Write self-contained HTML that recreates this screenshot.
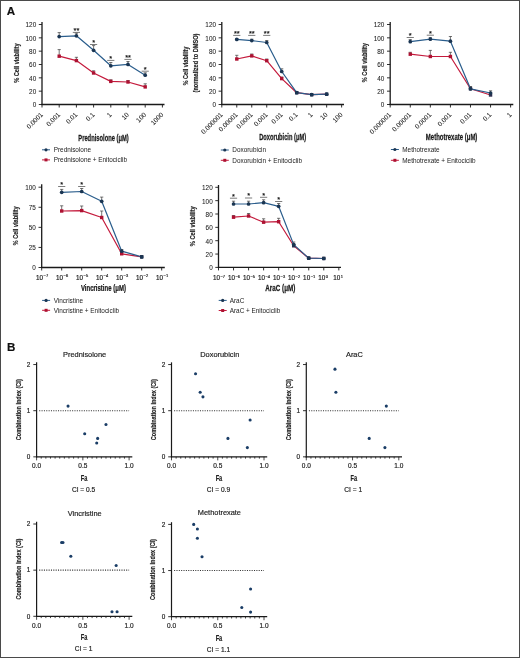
<!DOCTYPE html>
<html><head><meta charset="utf-8"><style>
html,body{margin:0;padding:0;background:#fff;}
#fig{position:relative;width:520px;height:658px;box-sizing:border-box;border:1px solid #4a4a4a;background:#fff;overflow:hidden;}
svg{position:absolute;left:-1px;top:-1px;filter:blur(0.3px);}
text{font-family:"Liberation Sans",sans-serif;}
</style></head><body><div id="fig">
<svg width="520" height="658" viewBox="0 0 520 658">
<text transform="translate(6.80,15.00)" font-size="11.6" text-anchor="start" font-weight="bold" fill="#111" stroke="#111" stroke-width="0.180">A</text>
<text transform="translate(6.90,351.40)" font-size="11.6" text-anchor="start" font-weight="bold" fill="#111" stroke="#111" stroke-width="0.180">B</text>
<line x1="38.80" y1="104.50" x2="42.00" y2="104.50" stroke="#1a1a1a" stroke-width="0.9"/>
<text transform="translate(36.20,107.40)" font-size="6.4" text-anchor="end" fill="#222222" stroke="#222222" stroke-width="0.060">0</text>
<line x1="38.80" y1="91.17" x2="42.00" y2="91.17" stroke="#1a1a1a" stroke-width="0.9"/>
<text transform="translate(36.20,94.07)" font-size="6.4" text-anchor="end" fill="#222222" stroke="#222222" stroke-width="0.060">20</text>
<line x1="38.80" y1="77.83" x2="42.00" y2="77.83" stroke="#1a1a1a" stroke-width="0.9"/>
<text transform="translate(36.20,80.73)" font-size="6.4" text-anchor="end" fill="#222222" stroke="#222222" stroke-width="0.060">40</text>
<line x1="38.80" y1="64.50" x2="42.00" y2="64.50" stroke="#1a1a1a" stroke-width="0.9"/>
<text transform="translate(36.20,67.40)" font-size="6.4" text-anchor="end" fill="#222222" stroke="#222222" stroke-width="0.060">60</text>
<line x1="38.80" y1="51.17" x2="42.00" y2="51.17" stroke="#1a1a1a" stroke-width="0.9"/>
<text transform="translate(36.20,54.07)" font-size="6.4" text-anchor="end" fill="#222222" stroke="#222222" stroke-width="0.060">80</text>
<line x1="38.80" y1="37.83" x2="42.00" y2="37.83" stroke="#1a1a1a" stroke-width="0.9"/>
<text transform="translate(36.20,40.73)" font-size="6.4" text-anchor="end" fill="#222222" stroke="#222222" stroke-width="0.060">100</text>
<line x1="38.80" y1="24.50" x2="42.00" y2="24.50" stroke="#1a1a1a" stroke-width="0.9"/>
<text transform="translate(36.20,27.40)" font-size="6.4" text-anchor="end" fill="#222222" stroke="#222222" stroke-width="0.060">120</text>
<line x1="42.00" y1="104.50" x2="42.00" y2="107.50" stroke="#1a1a1a" stroke-width="0.9"/>
<line x1="59.20" y1="104.50" x2="59.20" y2="107.50" stroke="#1a1a1a" stroke-width="0.9"/>
<line x1="76.40" y1="104.50" x2="76.40" y2="107.50" stroke="#1a1a1a" stroke-width="0.9"/>
<line x1="93.60" y1="104.50" x2="93.60" y2="107.50" stroke="#1a1a1a" stroke-width="0.9"/>
<line x1="110.80" y1="104.50" x2="110.80" y2="107.50" stroke="#1a1a1a" stroke-width="0.9"/>
<line x1="128.00" y1="104.50" x2="128.00" y2="107.50" stroke="#1a1a1a" stroke-width="0.9"/>
<line x1="145.20" y1="104.50" x2="145.20" y2="107.50" stroke="#1a1a1a" stroke-width="0.9"/>
<line x1="162.40" y1="104.50" x2="162.40" y2="107.50" stroke="#1a1a1a" stroke-width="0.9"/>
<line x1="42.00" y1="22.00" x2="42.00" y2="105.10" stroke="#1a1a1a" stroke-width="1.3"/>
<line x1="41.40" y1="104.50" x2="164.50" y2="104.50" stroke="#1a1a1a" stroke-width="1.3"/>
<text transform="translate(43.40,115.10) rotate(-45)" font-size="6.6" text-anchor="end" fill="#222222" stroke="#222222" stroke-width="0.060">0.0001</text>
<text transform="translate(60.60,115.10) rotate(-45)" font-size="6.6" text-anchor="end" fill="#222222" stroke="#222222" stroke-width="0.060">0.001</text>
<text transform="translate(77.80,115.10) rotate(-45)" font-size="6.6" text-anchor="end" fill="#222222" stroke="#222222" stroke-width="0.060">0.01</text>
<text transform="translate(95.00,115.10) rotate(-45)" font-size="6.6" text-anchor="end" fill="#222222" stroke="#222222" stroke-width="0.060">0.1</text>
<text transform="translate(112.20,115.10) rotate(-45)" font-size="6.6" text-anchor="end" fill="#222222" stroke="#222222" stroke-width="0.060">1</text>
<text transform="translate(129.40,115.10) rotate(-45)" font-size="6.6" text-anchor="end" fill="#222222" stroke="#222222" stroke-width="0.060">10</text>
<text transform="translate(146.60,115.10) rotate(-45)" font-size="6.6" text-anchor="end" fill="#222222" stroke="#222222" stroke-width="0.060">100</text>
<text transform="translate(163.80,115.10) rotate(-45)" font-size="6.6" text-anchor="end" fill="#222222" stroke="#222222" stroke-width="0.060">1000</text>
<line x1="59.20" y1="56.20" x2="59.20" y2="49.60" stroke="#3a3a3a" stroke-width="0.7"/>
<line x1="57.60" y1="49.60" x2="60.80" y2="49.60" stroke="#3a3a3a" stroke-width="0.7"/>
<line x1="76.40" y1="60.60" x2="76.40" y2="57.30" stroke="#3a3a3a" stroke-width="0.7"/>
<line x1="74.80" y1="57.30" x2="78.00" y2="57.30" stroke="#3a3a3a" stroke-width="0.7"/>
<line x1="93.60" y1="73.00" x2="93.60" y2="70.80" stroke="#3a3a3a" stroke-width="0.7"/>
<line x1="92.00" y1="70.80" x2="95.20" y2="70.80" stroke="#3a3a3a" stroke-width="0.7"/>
<line x1="110.80" y1="81.40" x2="110.80" y2="79.80" stroke="#3a3a3a" stroke-width="0.7"/>
<line x1="109.20" y1="79.80" x2="112.40" y2="79.80" stroke="#3a3a3a" stroke-width="0.7"/>
<line x1="128.00" y1="82.00" x2="128.00" y2="80.50" stroke="#3a3a3a" stroke-width="0.7"/>
<line x1="126.40" y1="80.50" x2="129.60" y2="80.50" stroke="#3a3a3a" stroke-width="0.7"/>
<line x1="145.20" y1="86.90" x2="145.20" y2="83.80" stroke="#3a3a3a" stroke-width="0.7"/>
<line x1="143.60" y1="83.80" x2="146.80" y2="83.80" stroke="#3a3a3a" stroke-width="0.7"/>
<line x1="59.20" y1="36.60" x2="59.20" y2="32.60" stroke="#3a3a3a" stroke-width="0.7"/>
<line x1="57.60" y1="32.60" x2="60.80" y2="32.60" stroke="#3a3a3a" stroke-width="0.7"/>
<line x1="76.40" y1="35.80" x2="76.40" y2="33.20" stroke="#3a3a3a" stroke-width="0.7"/>
<line x1="74.80" y1="33.20" x2="78.00" y2="33.20" stroke="#3a3a3a" stroke-width="0.7"/>
<line x1="93.60" y1="50.30" x2="93.60" y2="45.60" stroke="#3a3a3a" stroke-width="0.7"/>
<line x1="92.00" y1="45.60" x2="95.20" y2="45.60" stroke="#3a3a3a" stroke-width="0.7"/>
<line x1="110.80" y1="65.80" x2="110.80" y2="62.50" stroke="#3a3a3a" stroke-width="0.7"/>
<line x1="109.20" y1="62.50" x2="112.40" y2="62.50" stroke="#3a3a3a" stroke-width="0.7"/>
<line x1="128.00" y1="64.40" x2="128.00" y2="61.50" stroke="#3a3a3a" stroke-width="0.7"/>
<line x1="126.40" y1="61.50" x2="129.60" y2="61.50" stroke="#3a3a3a" stroke-width="0.7"/>
<line x1="145.20" y1="75.20" x2="145.20" y2="72.80" stroke="#3a3a3a" stroke-width="0.7"/>
<line x1="143.60" y1="72.80" x2="146.80" y2="72.80" stroke="#3a3a3a" stroke-width="0.7"/>
<polyline points="59.20,56.20 76.40,60.60 93.60,73.00 110.80,81.40 128.00,82.00 145.20,86.90" fill="none" stroke="#c41a3c" stroke-width="1.2" stroke-linejoin="round"/>
<polyline points="59.20,36.60 76.40,35.80 93.60,50.30 110.80,65.80 128.00,64.40 145.20,75.20" fill="none" stroke="#2a5d8c" stroke-width="1.2" stroke-linejoin="round"/>
<rect x="57.50" y="54.50" width="3.4" height="3.4" fill="#ad1232"/>
<rect x="74.70" y="58.90" width="3.4" height="3.4" fill="#ad1232"/>
<rect x="91.90" y="71.30" width="3.4" height="3.4" fill="#ad1232"/>
<rect x="109.10" y="79.70" width="3.4" height="3.4" fill="#ad1232"/>
<rect x="126.30" y="80.30" width="3.4" height="3.4" fill="#ad1232"/>
<rect x="143.50" y="85.20" width="3.4" height="3.4" fill="#ad1232"/>
<circle cx="59.20" cy="36.60" r="1.85" fill="#1a3552"/>
<circle cx="76.40" cy="35.80" r="1.85" fill="#1a3552"/>
<circle cx="93.60" cy="50.30" r="1.85" fill="#1a3552"/>
<circle cx="110.80" cy="65.80" r="1.85" fill="#1a3552"/>
<circle cx="128.00" cy="64.40" r="1.85" fill="#1a3552"/>
<circle cx="145.20" cy="75.20" r="1.85" fill="#1a3552"/>
<line x1="72.80" y1="32.40" x2="80.00" y2="32.40" stroke="#444" stroke-width="0.7"/>
<text transform="translate(76.40,32.79)" font-size="7.4" text-anchor="middle" fill="#111" stroke="#111" stroke-width="0.180">**</text>
<line x1="90.00" y1="44.50" x2="97.20" y2="44.50" stroke="#444" stroke-width="0.7"/>
<text transform="translate(93.60,44.89)" font-size="7.4" text-anchor="middle" fill="#111" stroke="#111" stroke-width="0.180">*</text>
<line x1="107.20" y1="60.40" x2="114.40" y2="60.40" stroke="#444" stroke-width="0.7"/>
<text transform="translate(110.80,60.79)" font-size="7.4" text-anchor="middle" fill="#111" stroke="#111" stroke-width="0.180">*</text>
<line x1="124.40" y1="59.40" x2="131.60" y2="59.40" stroke="#444" stroke-width="0.7"/>
<text transform="translate(128.00,59.79)" font-size="7.4" text-anchor="middle" fill="#111" stroke="#111" stroke-width="0.180">**</text>
<line x1="141.60" y1="71.20" x2="148.80" y2="71.20" stroke="#444" stroke-width="0.7"/>
<text transform="translate(145.20,71.59)" font-size="7.4" text-anchor="middle" fill="#111" stroke="#111" stroke-width="0.180">*</text>
<text transform="translate(103.50,140.60) scale(0.6811,1)" font-size="8.5" text-anchor="middle" font-weight="bold" fill="#1a1a1a" stroke="#1a1a1a" stroke-width="0.250">Prednisolone (μM)</text>
<text transform="translate(18.60,63.10) rotate(-90) scale(0.6982,1)" font-size="8.1" text-anchor="middle" font-weight="bold" fill="#222" stroke="#222" stroke-width="0.180">% Cell viability</text>
<line x1="42.00" y1="149.80" x2="50.00" y2="149.80" stroke="#2a5d8c" stroke-width="1.0"/>
<circle cx="46.00" cy="149.80" r="1.6" fill="#1a3552"/>
<line x1="42.00" y1="159.90" x2="50.00" y2="159.90" stroke="#c41a3c" stroke-width="1.0"/>
<rect x="44.50" y="158.40" width="3" height="3" fill="#ad1232"/>
<text transform="translate(53.70,152.10)" font-size="6.4" text-anchor="start" fill="#222222">Prednisolone</text>
<text transform="translate(53.70,162.20)" font-size="6.4" text-anchor="start" fill="#222222">Prednisolone + Enitociclib</text>
<line x1="218.60" y1="104.50" x2="221.80" y2="104.50" stroke="#1a1a1a" stroke-width="0.9"/>
<text transform="translate(216.00,107.40)" font-size="6.4" text-anchor="end" fill="#222222" stroke="#222222" stroke-width="0.060">0</text>
<line x1="218.60" y1="91.17" x2="221.80" y2="91.17" stroke="#1a1a1a" stroke-width="0.9"/>
<text transform="translate(216.00,94.07)" font-size="6.4" text-anchor="end" fill="#222222" stroke="#222222" stroke-width="0.060">20</text>
<line x1="218.60" y1="77.83" x2="221.80" y2="77.83" stroke="#1a1a1a" stroke-width="0.9"/>
<text transform="translate(216.00,80.73)" font-size="6.4" text-anchor="end" fill="#222222" stroke="#222222" stroke-width="0.060">40</text>
<line x1="218.60" y1="64.50" x2="221.80" y2="64.50" stroke="#1a1a1a" stroke-width="0.9"/>
<text transform="translate(216.00,67.40)" font-size="6.4" text-anchor="end" fill="#222222" stroke="#222222" stroke-width="0.060">60</text>
<line x1="218.60" y1="51.17" x2="221.80" y2="51.17" stroke="#1a1a1a" stroke-width="0.9"/>
<text transform="translate(216.00,54.07)" font-size="6.4" text-anchor="end" fill="#222222" stroke="#222222" stroke-width="0.060">80</text>
<line x1="218.60" y1="37.83" x2="221.80" y2="37.83" stroke="#1a1a1a" stroke-width="0.9"/>
<text transform="translate(216.00,40.73)" font-size="6.4" text-anchor="end" fill="#222222" stroke="#222222" stroke-width="0.060">100</text>
<line x1="218.60" y1="24.50" x2="221.80" y2="24.50" stroke="#1a1a1a" stroke-width="0.9"/>
<text transform="translate(216.00,27.40)" font-size="6.4" text-anchor="end" fill="#222222" stroke="#222222" stroke-width="0.060">120</text>
<line x1="221.80" y1="104.50" x2="221.80" y2="107.50" stroke="#1a1a1a" stroke-width="0.9"/>
<line x1="236.78" y1="104.50" x2="236.78" y2="107.50" stroke="#1a1a1a" stroke-width="0.9"/>
<line x1="251.76" y1="104.50" x2="251.76" y2="107.50" stroke="#1a1a1a" stroke-width="0.9"/>
<line x1="266.74" y1="104.50" x2="266.74" y2="107.50" stroke="#1a1a1a" stroke-width="0.9"/>
<line x1="281.72" y1="104.50" x2="281.72" y2="107.50" stroke="#1a1a1a" stroke-width="0.9"/>
<line x1="296.70" y1="104.50" x2="296.70" y2="107.50" stroke="#1a1a1a" stroke-width="0.9"/>
<line x1="311.68" y1="104.50" x2="311.68" y2="107.50" stroke="#1a1a1a" stroke-width="0.9"/>
<line x1="326.66" y1="104.50" x2="326.66" y2="107.50" stroke="#1a1a1a" stroke-width="0.9"/>
<line x1="341.64" y1="104.50" x2="341.64" y2="107.50" stroke="#1a1a1a" stroke-width="0.9"/>
<line x1="221.80" y1="22.00" x2="221.80" y2="105.10" stroke="#1a1a1a" stroke-width="1.3"/>
<line x1="221.20" y1="104.50" x2="344.00" y2="104.50" stroke="#1a1a1a" stroke-width="1.3"/>
<text transform="translate(223.20,115.10) rotate(-45)" font-size="6.6" text-anchor="end" fill="#222222" stroke="#222222" stroke-width="0.060">0.000001</text>
<text transform="translate(238.18,115.10) rotate(-45)" font-size="6.6" text-anchor="end" fill="#222222" stroke="#222222" stroke-width="0.060">0.00001</text>
<text transform="translate(253.16,115.10) rotate(-45)" font-size="6.6" text-anchor="end" fill="#222222" stroke="#222222" stroke-width="0.060">0.0001</text>
<text transform="translate(268.14,115.10) rotate(-45)" font-size="6.6" text-anchor="end" fill="#222222" stroke="#222222" stroke-width="0.060">0.001</text>
<text transform="translate(283.12,115.10) rotate(-45)" font-size="6.6" text-anchor="end" fill="#222222" stroke="#222222" stroke-width="0.060">0.01</text>
<text transform="translate(298.10,115.10) rotate(-45)" font-size="6.6" text-anchor="end" fill="#222222" stroke="#222222" stroke-width="0.060">0.1</text>
<text transform="translate(313.08,115.10) rotate(-45)" font-size="6.6" text-anchor="end" fill="#222222" stroke="#222222" stroke-width="0.060">1</text>
<text transform="translate(328.06,115.10) rotate(-45)" font-size="6.6" text-anchor="end" fill="#222222" stroke="#222222" stroke-width="0.060">10</text>
<text transform="translate(343.04,115.10) rotate(-45)" font-size="6.6" text-anchor="end" fill="#222222" stroke="#222222" stroke-width="0.060">100</text>
<line x1="236.78" y1="59.00" x2="236.78" y2="55.30" stroke="#3a3a3a" stroke-width="0.7"/>
<line x1="235.18" y1="55.30" x2="238.38" y2="55.30" stroke="#3a3a3a" stroke-width="0.7"/>
<line x1="251.76" y1="55.90" x2="251.76" y2="54.00" stroke="#3a3a3a" stroke-width="0.7"/>
<line x1="250.16" y1="54.00" x2="253.36" y2="54.00" stroke="#3a3a3a" stroke-width="0.7"/>
<line x1="266.74" y1="60.70" x2="266.74" y2="59.00" stroke="#3a3a3a" stroke-width="0.7"/>
<line x1="265.14" y1="59.00" x2="268.34" y2="59.00" stroke="#3a3a3a" stroke-width="0.7"/>
<line x1="281.72" y1="78.60" x2="281.72" y2="77.00" stroke="#3a3a3a" stroke-width="0.7"/>
<line x1="280.12" y1="77.00" x2="283.32" y2="77.00" stroke="#3a3a3a" stroke-width="0.7"/>
<line x1="236.78" y1="39.40" x2="236.78" y2="38.50" stroke="#3a3a3a" stroke-width="0.7"/>
<line x1="235.18" y1="38.50" x2="238.38" y2="38.50" stroke="#3a3a3a" stroke-width="0.7"/>
<line x1="251.76" y1="40.60" x2="251.76" y2="39.20" stroke="#3a3a3a" stroke-width="0.7"/>
<line x1="250.16" y1="39.20" x2="253.36" y2="39.20" stroke="#3a3a3a" stroke-width="0.7"/>
<line x1="266.74" y1="42.50" x2="266.74" y2="40.50" stroke="#3a3a3a" stroke-width="0.7"/>
<line x1="265.14" y1="40.50" x2="268.34" y2="40.50" stroke="#3a3a3a" stroke-width="0.7"/>
<line x1="281.72" y1="71.50" x2="281.72" y2="68.80" stroke="#3a3a3a" stroke-width="0.7"/>
<line x1="280.12" y1="68.80" x2="283.32" y2="68.80" stroke="#3a3a3a" stroke-width="0.7"/>
<line x1="296.70" y1="92.70" x2="296.70" y2="91.50" stroke="#3a3a3a" stroke-width="0.7"/>
<line x1="295.10" y1="91.50" x2="298.30" y2="91.50" stroke="#3a3a3a" stroke-width="0.7"/>
<polyline points="236.78,59.00 251.76,55.90 266.74,60.70 281.72,78.60 296.70,92.70 311.68,94.70 326.66,94.20" fill="none" stroke="#c41a3c" stroke-width="1.2" stroke-linejoin="round"/>
<polyline points="236.78,39.40 251.76,40.60 266.74,42.50 281.72,71.50 296.70,92.70 311.68,94.70 326.66,94.20" fill="none" stroke="#2a5d8c" stroke-width="1.2" stroke-linejoin="round"/>
<rect x="235.08" y="57.30" width="3.4" height="3.4" fill="#ad1232"/>
<rect x="250.06" y="54.20" width="3.4" height="3.4" fill="#ad1232"/>
<rect x="265.04" y="59.00" width="3.4" height="3.4" fill="#ad1232"/>
<rect x="280.02" y="76.90" width="3.4" height="3.4" fill="#ad1232"/>
<rect x="295.00" y="91.00" width="3.4" height="3.4" fill="#2f2f50"/>
<rect x="309.98" y="93.00" width="3.4" height="3.4" fill="#2f2f50"/>
<rect x="324.96" y="92.50" width="3.4" height="3.4" fill="#2f2f50"/>
<circle cx="236.78" cy="39.40" r="1.85" fill="#1a3552"/>
<circle cx="251.76" cy="40.60" r="1.85" fill="#1a3552"/>
<circle cx="266.74" cy="42.50" r="1.85" fill="#1a3552"/>
<circle cx="281.72" cy="71.50" r="1.85" fill="#1a3552"/>
<circle cx="296.70" cy="92.70" r="1.85" fill="#1a3552"/>
<circle cx="311.68" cy="94.70" r="1.85" fill="#1a3552"/>
<circle cx="326.66" cy="94.20" r="1.85" fill="#1a3552"/>
<line x1="233.18" y1="35.40" x2="240.38" y2="35.40" stroke="#444" stroke-width="0.7"/>
<text transform="translate(236.78,35.79)" font-size="7.4" text-anchor="middle" fill="#111" stroke="#111" stroke-width="0.180">**</text>
<line x1="248.16" y1="35.40" x2="255.36" y2="35.40" stroke="#444" stroke-width="0.7"/>
<text transform="translate(251.76,35.79)" font-size="7.4" text-anchor="middle" fill="#111" stroke="#111" stroke-width="0.180">**</text>
<line x1="263.14" y1="35.40" x2="270.34" y2="35.40" stroke="#444" stroke-width="0.7"/>
<text transform="translate(266.74,35.79)" font-size="7.4" text-anchor="middle" fill="#111" stroke="#111" stroke-width="0.180">**</text>
<text transform="translate(282.60,140.40) scale(0.6725,1)" font-size="8.5" text-anchor="middle" font-weight="bold" fill="#1a1a1a" stroke="#1a1a1a" stroke-width="0.250">Doxorubicin (μM)</text>
<text transform="translate(187.70,66.00) rotate(-90) scale(0.6823,1)" font-size="8.1" text-anchor="middle" font-weight="bold" fill="#222" stroke="#222" stroke-width="0.180">% Cell viability</text>
<text transform="translate(198.00,63.00) rotate(-90) scale(0.6986,1)" font-size="8.1" text-anchor="middle" font-weight="bold" fill="#222" stroke="#222" stroke-width="0.180">(normalized to DMSO)</text>
<line x1="220.80" y1="150.00" x2="228.80" y2="150.00" stroke="#2a5d8c" stroke-width="1.0"/>
<circle cx="224.80" cy="150.00" r="1.6" fill="#1a3552"/>
<line x1="220.80" y1="160.30" x2="228.80" y2="160.30" stroke="#c41a3c" stroke-width="1.0"/>
<rect x="223.30" y="158.80" width="3" height="3" fill="#ad1232"/>
<text transform="translate(232.30,152.30)" font-size="6.4" text-anchor="start" fill="#222222">Doxorubicin</text>
<text transform="translate(232.30,162.60)" font-size="6.4" text-anchor="start" fill="#222222">Doxorubicin + Enitociclib</text>
<line x1="387.00" y1="104.50" x2="390.20" y2="104.50" stroke="#1a1a1a" stroke-width="0.9"/>
<text transform="translate(384.40,107.40)" font-size="6.4" text-anchor="end" fill="#222222" stroke="#222222" stroke-width="0.060">0</text>
<line x1="387.00" y1="91.17" x2="390.20" y2="91.17" stroke="#1a1a1a" stroke-width="0.9"/>
<text transform="translate(384.40,94.07)" font-size="6.4" text-anchor="end" fill="#222222" stroke="#222222" stroke-width="0.060">20</text>
<line x1="387.00" y1="77.83" x2="390.20" y2="77.83" stroke="#1a1a1a" stroke-width="0.9"/>
<text transform="translate(384.40,80.73)" font-size="6.4" text-anchor="end" fill="#222222" stroke="#222222" stroke-width="0.060">40</text>
<line x1="387.00" y1="64.50" x2="390.20" y2="64.50" stroke="#1a1a1a" stroke-width="0.9"/>
<text transform="translate(384.40,67.40)" font-size="6.4" text-anchor="end" fill="#222222" stroke="#222222" stroke-width="0.060">60</text>
<line x1="387.00" y1="51.17" x2="390.20" y2="51.17" stroke="#1a1a1a" stroke-width="0.9"/>
<text transform="translate(384.40,54.07)" font-size="6.4" text-anchor="end" fill="#222222" stroke="#222222" stroke-width="0.060">80</text>
<line x1="387.00" y1="37.83" x2="390.20" y2="37.83" stroke="#1a1a1a" stroke-width="0.9"/>
<text transform="translate(384.40,40.73)" font-size="6.4" text-anchor="end" fill="#222222" stroke="#222222" stroke-width="0.060">100</text>
<line x1="387.00" y1="24.50" x2="390.20" y2="24.50" stroke="#1a1a1a" stroke-width="0.9"/>
<text transform="translate(384.40,27.40)" font-size="6.4" text-anchor="end" fill="#222222" stroke="#222222" stroke-width="0.060">120</text>
<line x1="390.20" y1="104.50" x2="390.20" y2="107.50" stroke="#1a1a1a" stroke-width="0.9"/>
<line x1="410.27" y1="104.50" x2="410.27" y2="107.50" stroke="#1a1a1a" stroke-width="0.9"/>
<line x1="430.34" y1="104.50" x2="430.34" y2="107.50" stroke="#1a1a1a" stroke-width="0.9"/>
<line x1="450.41" y1="104.50" x2="450.41" y2="107.50" stroke="#1a1a1a" stroke-width="0.9"/>
<line x1="470.48" y1="104.50" x2="470.48" y2="107.50" stroke="#1a1a1a" stroke-width="0.9"/>
<line x1="490.55" y1="104.50" x2="490.55" y2="107.50" stroke="#1a1a1a" stroke-width="0.9"/>
<line x1="510.62" y1="104.50" x2="510.62" y2="107.50" stroke="#1a1a1a" stroke-width="0.9"/>
<line x1="390.20" y1="22.00" x2="390.20" y2="105.10" stroke="#1a1a1a" stroke-width="1.3"/>
<line x1="389.60" y1="104.50" x2="513.30" y2="104.50" stroke="#1a1a1a" stroke-width="1.3"/>
<text transform="translate(391.60,115.10) rotate(-45)" font-size="6.6" text-anchor="end" fill="#222222" stroke="#222222" stroke-width="0.060">0.000001</text>
<text transform="translate(411.67,115.10) rotate(-45)" font-size="6.6" text-anchor="end" fill="#222222" stroke="#222222" stroke-width="0.060">0.00001</text>
<text transform="translate(431.74,115.10) rotate(-45)" font-size="6.6" text-anchor="end" fill="#222222" stroke="#222222" stroke-width="0.060">0.0001</text>
<text transform="translate(451.81,115.10) rotate(-45)" font-size="6.6" text-anchor="end" fill="#222222" stroke="#222222" stroke-width="0.060">0.001</text>
<text transform="translate(471.88,115.10) rotate(-45)" font-size="6.6" text-anchor="end" fill="#222222" stroke="#222222" stroke-width="0.060">0.01</text>
<text transform="translate(491.95,115.10) rotate(-45)" font-size="6.6" text-anchor="end" fill="#222222" stroke="#222222" stroke-width="0.060">0.1</text>
<text transform="translate(512.02,115.10) rotate(-45)" font-size="6.6" text-anchor="end" fill="#222222" stroke="#222222" stroke-width="0.060">1</text>
<line x1="410.27" y1="54.20" x2="410.27" y2="52.30" stroke="#3a3a3a" stroke-width="0.7"/>
<line x1="408.67" y1="52.30" x2="411.87" y2="52.30" stroke="#3a3a3a" stroke-width="0.7"/>
<line x1="430.34" y1="56.50" x2="430.34" y2="50.40" stroke="#3a3a3a" stroke-width="0.7"/>
<line x1="428.74" y1="50.40" x2="431.94" y2="50.40" stroke="#3a3a3a" stroke-width="0.7"/>
<line x1="450.41" y1="56.50" x2="450.41" y2="52.30" stroke="#3a3a3a" stroke-width="0.7"/>
<line x1="448.81" y1="52.30" x2="452.01" y2="52.30" stroke="#3a3a3a" stroke-width="0.7"/>
<line x1="470.48" y1="88.80" x2="470.48" y2="87.00" stroke="#3a3a3a" stroke-width="0.7"/>
<line x1="468.88" y1="87.00" x2="472.08" y2="87.00" stroke="#3a3a3a" stroke-width="0.7"/>
<line x1="490.55" y1="95.00" x2="490.55" y2="92.50" stroke="#3a3a3a" stroke-width="0.7"/>
<line x1="488.95" y1="92.50" x2="492.15" y2="92.50" stroke="#3a3a3a" stroke-width="0.7"/>
<line x1="410.27" y1="41.70" x2="410.27" y2="39.60" stroke="#3a3a3a" stroke-width="0.7"/>
<line x1="408.67" y1="39.60" x2="411.87" y2="39.60" stroke="#3a3a3a" stroke-width="0.7"/>
<line x1="430.34" y1="39.20" x2="430.34" y2="37.60" stroke="#3a3a3a" stroke-width="0.7"/>
<line x1="428.74" y1="37.60" x2="431.94" y2="37.60" stroke="#3a3a3a" stroke-width="0.7"/>
<line x1="450.41" y1="41.20" x2="450.41" y2="36.50" stroke="#3a3a3a" stroke-width="0.7"/>
<line x1="448.81" y1="36.50" x2="452.01" y2="36.50" stroke="#3a3a3a" stroke-width="0.7"/>
<line x1="470.48" y1="88.80" x2="470.48" y2="86.50" stroke="#3a3a3a" stroke-width="0.7"/>
<line x1="468.88" y1="86.50" x2="472.08" y2="86.50" stroke="#3a3a3a" stroke-width="0.7"/>
<line x1="490.55" y1="93.00" x2="490.55" y2="90.80" stroke="#3a3a3a" stroke-width="0.7"/>
<line x1="488.95" y1="90.80" x2="492.15" y2="90.80" stroke="#3a3a3a" stroke-width="0.7"/>
<polyline points="410.27,54.20 430.34,56.50 450.41,56.50 470.48,88.80 490.55,95.00" fill="none" stroke="#c41a3c" stroke-width="1.2" stroke-linejoin="round"/>
<polyline points="410.27,41.70 430.34,39.20 450.41,41.20 470.48,88.80 490.55,93.00" fill="none" stroke="#2a5d8c" stroke-width="1.2" stroke-linejoin="round"/>
<rect x="408.57" y="52.50" width="3.4" height="3.4" fill="#ad1232"/>
<rect x="428.64" y="54.80" width="3.4" height="3.4" fill="#ad1232"/>
<rect x="448.71" y="54.80" width="3.4" height="3.4" fill="#ad1232"/>
<rect x="468.78" y="87.10" width="3.4" height="3.4" fill="#2f2f50"/>
<rect x="488.85" y="93.30" width="3.4" height="3.4" fill="#2f2f50"/>
<circle cx="410.27" cy="41.70" r="1.85" fill="#1a3552"/>
<circle cx="430.34" cy="39.20" r="1.85" fill="#1a3552"/>
<circle cx="450.41" cy="41.20" r="1.85" fill="#1a3552"/>
<circle cx="470.48" cy="88.80" r="1.85" fill="#1a3552"/>
<circle cx="490.55" cy="93.00" r="1.85" fill="#1a3552"/>
<line x1="406.67" y1="37.50" x2="413.87" y2="37.50" stroke="#444" stroke-width="0.7"/>
<text transform="translate(410.27,37.89)" font-size="7.4" text-anchor="middle" fill="#111" stroke="#111" stroke-width="0.180">*</text>
<line x1="426.74" y1="35.20" x2="433.94" y2="35.20" stroke="#444" stroke-width="0.7"/>
<text transform="translate(430.34,35.59)" font-size="7.4" text-anchor="middle" fill="#111" stroke="#111" stroke-width="0.180">*</text>
<text transform="translate(451.60,140.40) scale(0.7049,1)" font-size="8.5" text-anchor="middle" font-weight="bold" fill="#1a1a1a" stroke="#1a1a1a" stroke-width="0.250">Methotrexate (μM)</text>
<text transform="translate(366.70,62.60) rotate(-90) scale(0.6911,1)" font-size="8.1" text-anchor="middle" font-weight="bold" fill="#222" stroke="#222" stroke-width="0.180">% Cell viability</text>
<line x1="390.90" y1="149.50" x2="398.90" y2="149.50" stroke="#2a5d8c" stroke-width="1.0"/>
<circle cx="394.90" cy="149.50" r="1.6" fill="#1a3552"/>
<line x1="390.90" y1="160.30" x2="398.90" y2="160.30" stroke="#c41a3c" stroke-width="1.0"/>
<rect x="393.40" y="158.80" width="3" height="3" fill="#ad1232"/>
<text transform="translate(402.30,151.80)" font-size="6.4" text-anchor="start" fill="#222222">Methotrexate</text>
<text transform="translate(402.30,162.60)" font-size="6.4" text-anchor="start" fill="#222222">Methotrexate + Enitociclib</text>
<line x1="38.50" y1="267.50" x2="41.70" y2="267.50" stroke="#1a1a1a" stroke-width="0.9"/>
<text transform="translate(35.90,270.40)" font-size="6.4" text-anchor="end" fill="#222222" stroke="#222222" stroke-width="0.060">0</text>
<line x1="38.50" y1="247.43" x2="41.70" y2="247.43" stroke="#1a1a1a" stroke-width="0.9"/>
<text transform="translate(35.90,250.33)" font-size="6.4" text-anchor="end" fill="#222222" stroke="#222222" stroke-width="0.060">25</text>
<line x1="38.50" y1="227.35" x2="41.70" y2="227.35" stroke="#1a1a1a" stroke-width="0.9"/>
<text transform="translate(35.90,230.25)" font-size="6.4" text-anchor="end" fill="#222222" stroke="#222222" stroke-width="0.060">50</text>
<line x1="38.50" y1="207.27" x2="41.70" y2="207.27" stroke="#1a1a1a" stroke-width="0.9"/>
<text transform="translate(35.90,210.17)" font-size="6.4" text-anchor="end" fill="#222222" stroke="#222222" stroke-width="0.060">75</text>
<line x1="38.50" y1="187.20" x2="41.70" y2="187.20" stroke="#1a1a1a" stroke-width="0.9"/>
<text transform="translate(35.90,190.10)" font-size="6.4" text-anchor="end" fill="#222222" stroke="#222222" stroke-width="0.060">100</text>
<line x1="41.70" y1="267.50" x2="41.70" y2="270.50" stroke="#1a1a1a" stroke-width="0.9"/>
<line x1="61.70" y1="267.50" x2="61.70" y2="270.50" stroke="#1a1a1a" stroke-width="0.9"/>
<line x1="81.70" y1="267.50" x2="81.70" y2="270.50" stroke="#1a1a1a" stroke-width="0.9"/>
<line x1="101.70" y1="267.50" x2="101.70" y2="270.50" stroke="#1a1a1a" stroke-width="0.9"/>
<line x1="121.70" y1="267.50" x2="121.70" y2="270.50" stroke="#1a1a1a" stroke-width="0.9"/>
<line x1="141.70" y1="267.50" x2="141.70" y2="270.50" stroke="#1a1a1a" stroke-width="0.9"/>
<line x1="161.70" y1="267.50" x2="161.70" y2="270.50" stroke="#1a1a1a" stroke-width="0.9"/>
<line x1="41.70" y1="184.20" x2="41.70" y2="268.10" stroke="#1a1a1a" stroke-width="1.3"/>
<line x1="41.10" y1="267.50" x2="164.80" y2="267.50" stroke="#1a1a1a" stroke-width="1.3"/>
<text transform="translate(43.10,279.50)" font-size="6.3" text-anchor="end" fill="#222222" stroke="#222222" stroke-width="0.180">10</text>
<text transform="translate(43.60,276.90)" font-size="4.0" text-anchor="start" fill="#222222" stroke="#222222" stroke-width="0.180">−7</text>
<text transform="translate(63.10,279.50)" font-size="6.3" text-anchor="end" fill="#222222" stroke="#222222" stroke-width="0.180">10</text>
<text transform="translate(63.60,276.90)" font-size="4.0" text-anchor="start" fill="#222222" stroke="#222222" stroke-width="0.180">−6</text>
<text transform="translate(83.10,279.50)" font-size="6.3" text-anchor="end" fill="#222222" stroke="#222222" stroke-width="0.180">10</text>
<text transform="translate(83.60,276.90)" font-size="4.0" text-anchor="start" fill="#222222" stroke="#222222" stroke-width="0.180">−5</text>
<text transform="translate(103.10,279.50)" font-size="6.3" text-anchor="end" fill="#222222" stroke="#222222" stroke-width="0.180">10</text>
<text transform="translate(103.60,276.90)" font-size="4.0" text-anchor="start" fill="#222222" stroke="#222222" stroke-width="0.180">−4</text>
<text transform="translate(123.10,279.50)" font-size="6.3" text-anchor="end" fill="#222222" stroke="#222222" stroke-width="0.180">10</text>
<text transform="translate(123.60,276.90)" font-size="4.0" text-anchor="start" fill="#222222" stroke="#222222" stroke-width="0.180">−3</text>
<text transform="translate(143.10,279.50)" font-size="6.3" text-anchor="end" fill="#222222" stroke="#222222" stroke-width="0.180">10</text>
<text transform="translate(143.60,276.90)" font-size="4.0" text-anchor="start" fill="#222222" stroke="#222222" stroke-width="0.180">−2</text>
<text transform="translate(163.10,279.50)" font-size="6.3" text-anchor="end" fill="#222222" stroke="#222222" stroke-width="0.180">10</text>
<text transform="translate(163.60,276.90)" font-size="4.0" text-anchor="start" fill="#222222" stroke="#222222" stroke-width="0.180">−1</text>
<line x1="61.70" y1="211.00" x2="61.70" y2="205.80" stroke="#3a3a3a" stroke-width="0.7"/>
<line x1="60.10" y1="205.80" x2="63.30" y2="205.80" stroke="#3a3a3a" stroke-width="0.7"/>
<line x1="81.70" y1="210.60" x2="81.70" y2="206.00" stroke="#3a3a3a" stroke-width="0.7"/>
<line x1="80.10" y1="206.00" x2="83.30" y2="206.00" stroke="#3a3a3a" stroke-width="0.7"/>
<line x1="101.70" y1="217.50" x2="101.70" y2="211.00" stroke="#3a3a3a" stroke-width="0.7"/>
<line x1="100.10" y1="211.00" x2="103.30" y2="211.00" stroke="#3a3a3a" stroke-width="0.7"/>
<line x1="121.70" y1="253.80" x2="121.70" y2="252.50" stroke="#3a3a3a" stroke-width="0.7"/>
<line x1="120.10" y1="252.50" x2="123.30" y2="252.50" stroke="#3a3a3a" stroke-width="0.7"/>
<line x1="61.70" y1="192.30" x2="61.70" y2="189.40" stroke="#3a3a3a" stroke-width="0.7"/>
<line x1="60.10" y1="189.40" x2="63.30" y2="189.40" stroke="#3a3a3a" stroke-width="0.7"/>
<line x1="81.70" y1="191.50" x2="81.70" y2="188.50" stroke="#3a3a3a" stroke-width="0.7"/>
<line x1="80.10" y1="188.50" x2="83.30" y2="188.50" stroke="#3a3a3a" stroke-width="0.7"/>
<line x1="101.70" y1="201.30" x2="101.70" y2="197.10" stroke="#3a3a3a" stroke-width="0.7"/>
<line x1="100.10" y1="197.10" x2="103.30" y2="197.10" stroke="#3a3a3a" stroke-width="0.7"/>
<line x1="121.70" y1="251.20" x2="121.70" y2="249.50" stroke="#3a3a3a" stroke-width="0.7"/>
<line x1="120.10" y1="249.50" x2="123.30" y2="249.50" stroke="#3a3a3a" stroke-width="0.7"/>
<line x1="141.70" y1="256.90" x2="141.70" y2="255.50" stroke="#3a3a3a" stroke-width="0.7"/>
<line x1="140.10" y1="255.50" x2="143.30" y2="255.50" stroke="#3a3a3a" stroke-width="0.7"/>
<polyline points="61.70,211.00 81.70,210.60 101.70,217.50 121.70,253.80 141.70,256.90" fill="none" stroke="#c41a3c" stroke-width="1.2" stroke-linejoin="round"/>
<polyline points="61.70,192.30 81.70,191.50 101.70,201.30 121.70,251.20 141.70,256.90" fill="none" stroke="#2a5d8c" stroke-width="1.2" stroke-linejoin="round"/>
<rect x="60.00" y="209.30" width="3.4" height="3.4" fill="#ad1232"/>
<rect x="80.00" y="208.90" width="3.4" height="3.4" fill="#ad1232"/>
<rect x="100.00" y="215.80" width="3.4" height="3.4" fill="#ad1232"/>
<rect x="120.00" y="252.10" width="3.4" height="3.4" fill="#ad1232"/>
<rect x="140.00" y="255.20" width="3.4" height="3.4" fill="#2f2f50"/>
<circle cx="61.70" cy="192.30" r="1.85" fill="#1a3552"/>
<circle cx="81.70" cy="191.50" r="1.85" fill="#1a3552"/>
<circle cx="101.70" cy="201.30" r="1.85" fill="#1a3552"/>
<circle cx="121.70" cy="251.20" r="1.85" fill="#1a3552"/>
<circle cx="141.70" cy="256.90" r="1.85" fill="#1a3552"/>
<line x1="58.10" y1="186.50" x2="65.30" y2="186.50" stroke="#444" stroke-width="0.7"/>
<text transform="translate(61.70,186.89)" font-size="7.4" text-anchor="middle" fill="#111" stroke="#111" stroke-width="0.180">*</text>
<line x1="78.10" y1="186.50" x2="85.30" y2="186.50" stroke="#444" stroke-width="0.7"/>
<text transform="translate(81.70,186.89)" font-size="7.4" text-anchor="middle" fill="#111" stroke="#111" stroke-width="0.180">*</text>
<text transform="translate(103.40,291.10) scale(0.7074,1)" font-size="8.5" text-anchor="middle" font-weight="bold" fill="#1a1a1a" stroke="#1a1a1a" stroke-width="0.250">Vincristine (μM)</text>
<text transform="translate(18.40,225.80) rotate(-90) scale(0.6876,1)" font-size="8.1" text-anchor="middle" font-weight="bold" fill="#222" stroke="#222" stroke-width="0.180">% Cell viability</text>
<line x1="42.10" y1="300.40" x2="50.10" y2="300.40" stroke="#2a5d8c" stroke-width="1.0"/>
<circle cx="46.10" cy="300.40" r="1.6" fill="#1a3552"/>
<line x1="42.10" y1="310.30" x2="50.10" y2="310.30" stroke="#c41a3c" stroke-width="1.0"/>
<rect x="44.60" y="308.80" width="3" height="3" fill="#ad1232"/>
<text transform="translate(53.70,302.70)" font-size="6.4" text-anchor="start" fill="#222222">Vincristine</text>
<text transform="translate(53.70,312.60)" font-size="6.4" text-anchor="start" fill="#222222">Vincristine + Enitociclib</text>
<line x1="215.30" y1="267.40" x2="218.50" y2="267.40" stroke="#1a1a1a" stroke-width="0.9"/>
<text transform="translate(212.70,270.30)" font-size="6.4" text-anchor="end" fill="#222222" stroke="#222222" stroke-width="0.060">0</text>
<line x1="215.30" y1="254.05" x2="218.50" y2="254.05" stroke="#1a1a1a" stroke-width="0.9"/>
<text transform="translate(212.70,256.95)" font-size="6.4" text-anchor="end" fill="#222222" stroke="#222222" stroke-width="0.060">20</text>
<line x1="215.30" y1="240.70" x2="218.50" y2="240.70" stroke="#1a1a1a" stroke-width="0.9"/>
<text transform="translate(212.70,243.60)" font-size="6.4" text-anchor="end" fill="#222222" stroke="#222222" stroke-width="0.060">40</text>
<line x1="215.30" y1="227.35" x2="218.50" y2="227.35" stroke="#1a1a1a" stroke-width="0.9"/>
<text transform="translate(212.70,230.25)" font-size="6.4" text-anchor="end" fill="#222222" stroke="#222222" stroke-width="0.060">60</text>
<line x1="215.30" y1="214.00" x2="218.50" y2="214.00" stroke="#1a1a1a" stroke-width="0.9"/>
<text transform="translate(212.70,216.90)" font-size="6.4" text-anchor="end" fill="#222222" stroke="#222222" stroke-width="0.060">80</text>
<line x1="215.30" y1="200.65" x2="218.50" y2="200.65" stroke="#1a1a1a" stroke-width="0.9"/>
<text transform="translate(212.70,203.55)" font-size="6.4" text-anchor="end" fill="#222222" stroke="#222222" stroke-width="0.060">100</text>
<line x1="215.30" y1="187.30" x2="218.50" y2="187.30" stroke="#1a1a1a" stroke-width="0.9"/>
<text transform="translate(212.70,190.20)" font-size="6.4" text-anchor="end" fill="#222222" stroke="#222222" stroke-width="0.060">120</text>
<line x1="218.50" y1="267.40" x2="218.50" y2="270.40" stroke="#1a1a1a" stroke-width="0.9"/>
<line x1="233.54" y1="267.40" x2="233.54" y2="270.40" stroke="#1a1a1a" stroke-width="0.9"/>
<line x1="248.58" y1="267.40" x2="248.58" y2="270.40" stroke="#1a1a1a" stroke-width="0.9"/>
<line x1="263.62" y1="267.40" x2="263.62" y2="270.40" stroke="#1a1a1a" stroke-width="0.9"/>
<line x1="278.66" y1="267.40" x2="278.66" y2="270.40" stroke="#1a1a1a" stroke-width="0.9"/>
<line x1="293.70" y1="267.40" x2="293.70" y2="270.40" stroke="#1a1a1a" stroke-width="0.9"/>
<line x1="308.74" y1="267.40" x2="308.74" y2="270.40" stroke="#1a1a1a" stroke-width="0.9"/>
<line x1="323.78" y1="267.40" x2="323.78" y2="270.40" stroke="#1a1a1a" stroke-width="0.9"/>
<line x1="338.82" y1="267.40" x2="338.82" y2="270.40" stroke="#1a1a1a" stroke-width="0.9"/>
<line x1="218.50" y1="185.00" x2="218.50" y2="268.00" stroke="#1a1a1a" stroke-width="1.3"/>
<line x1="217.90" y1="267.40" x2="341.00" y2="267.40" stroke="#1a1a1a" stroke-width="1.3"/>
<text transform="translate(219.90,280.10)" font-size="6.3" text-anchor="end" fill="#222222" stroke="#222222" stroke-width="0.180">10</text>
<text transform="translate(220.40,277.50)" font-size="4.0" text-anchor="start" fill="#222222" stroke="#222222" stroke-width="0.180">−7</text>
<text transform="translate(234.94,280.10)" font-size="6.3" text-anchor="end" fill="#222222" stroke="#222222" stroke-width="0.180">10</text>
<text transform="translate(235.44,277.50)" font-size="4.0" text-anchor="start" fill="#222222" stroke="#222222" stroke-width="0.180">−6</text>
<text transform="translate(249.98,280.10)" font-size="6.3" text-anchor="end" fill="#222222" stroke="#222222" stroke-width="0.180">10</text>
<text transform="translate(250.48,277.50)" font-size="4.0" text-anchor="start" fill="#222222" stroke="#222222" stroke-width="0.180">−5</text>
<text transform="translate(265.02,280.10)" font-size="6.3" text-anchor="end" fill="#222222" stroke="#222222" stroke-width="0.180">10</text>
<text transform="translate(265.52,277.50)" font-size="4.0" text-anchor="start" fill="#222222" stroke="#222222" stroke-width="0.180">−4</text>
<text transform="translate(280.06,280.10)" font-size="6.3" text-anchor="end" fill="#222222" stroke="#222222" stroke-width="0.180">10</text>
<text transform="translate(280.56,277.50)" font-size="4.0" text-anchor="start" fill="#222222" stroke="#222222" stroke-width="0.180">−3</text>
<text transform="translate(295.10,280.10)" font-size="6.3" text-anchor="end" fill="#222222" stroke="#222222" stroke-width="0.180">10</text>
<text transform="translate(295.60,277.50)" font-size="4.0" text-anchor="start" fill="#222222" stroke="#222222" stroke-width="0.180">−2</text>
<text transform="translate(310.14,280.10)" font-size="6.3" text-anchor="end" fill="#222222" stroke="#222222" stroke-width="0.180">10</text>
<text transform="translate(310.64,277.50)" font-size="4.0" text-anchor="start" fill="#222222" stroke="#222222" stroke-width="0.180">−1</text>
<text transform="translate(325.18,280.10)" font-size="6.3" text-anchor="end" fill="#222222" stroke="#222222" stroke-width="0.180">10</text>
<text transform="translate(325.68,277.50)" font-size="4.0" text-anchor="start" fill="#222222" stroke="#222222" stroke-width="0.180">0</text>
<text transform="translate(340.22,280.10)" font-size="6.3" text-anchor="end" fill="#222222" stroke="#222222" stroke-width="0.180">10</text>
<text transform="translate(340.72,277.50)" font-size="4.0" text-anchor="start" fill="#222222" stroke="#222222" stroke-width="0.180">1</text>
<line x1="233.54" y1="217.20" x2="233.54" y2="215.50" stroke="#3a3a3a" stroke-width="0.7"/>
<line x1="231.94" y1="215.50" x2="235.14" y2="215.50" stroke="#3a3a3a" stroke-width="0.7"/>
<line x1="248.58" y1="216.00" x2="248.58" y2="213.50" stroke="#3a3a3a" stroke-width="0.7"/>
<line x1="246.98" y1="213.50" x2="250.18" y2="213.50" stroke="#3a3a3a" stroke-width="0.7"/>
<line x1="263.62" y1="222.20" x2="263.62" y2="218.80" stroke="#3a3a3a" stroke-width="0.7"/>
<line x1="262.02" y1="218.80" x2="265.22" y2="218.80" stroke="#3a3a3a" stroke-width="0.7"/>
<line x1="278.66" y1="221.70" x2="278.66" y2="218.30" stroke="#3a3a3a" stroke-width="0.7"/>
<line x1="277.06" y1="218.30" x2="280.26" y2="218.30" stroke="#3a3a3a" stroke-width="0.7"/>
<line x1="293.70" y1="245.80" x2="293.70" y2="244.00" stroke="#3a3a3a" stroke-width="0.7"/>
<line x1="292.10" y1="244.00" x2="295.30" y2="244.00" stroke="#3a3a3a" stroke-width="0.7"/>
<line x1="233.54" y1="204.00" x2="233.54" y2="201.20" stroke="#3a3a3a" stroke-width="0.7"/>
<line x1="231.94" y1="201.20" x2="235.14" y2="201.20" stroke="#3a3a3a" stroke-width="0.7"/>
<line x1="248.58" y1="204.00" x2="248.58" y2="201.20" stroke="#3a3a3a" stroke-width="0.7"/>
<line x1="246.98" y1="201.20" x2="250.18" y2="201.20" stroke="#3a3a3a" stroke-width="0.7"/>
<line x1="263.62" y1="202.70" x2="263.62" y2="199.80" stroke="#3a3a3a" stroke-width="0.7"/>
<line x1="262.02" y1="199.80" x2="265.22" y2="199.80" stroke="#3a3a3a" stroke-width="0.7"/>
<line x1="278.66" y1="206.30" x2="278.66" y2="203.50" stroke="#3a3a3a" stroke-width="0.7"/>
<line x1="277.06" y1="203.50" x2="280.26" y2="203.50" stroke="#3a3a3a" stroke-width="0.7"/>
<line x1="293.70" y1="244.60" x2="293.70" y2="242.00" stroke="#3a3a3a" stroke-width="0.7"/>
<line x1="292.10" y1="242.00" x2="295.30" y2="242.00" stroke="#3a3a3a" stroke-width="0.7"/>
<line x1="308.74" y1="258.20" x2="308.74" y2="257.00" stroke="#3a3a3a" stroke-width="0.7"/>
<line x1="307.14" y1="257.00" x2="310.34" y2="257.00" stroke="#3a3a3a" stroke-width="0.7"/>
<line x1="323.78" y1="258.50" x2="323.78" y2="257.20" stroke="#3a3a3a" stroke-width="0.7"/>
<line x1="322.18" y1="257.20" x2="325.38" y2="257.20" stroke="#3a3a3a" stroke-width="0.7"/>
<polyline points="233.54,217.20 248.58,216.00 263.62,222.20 278.66,221.70 293.70,245.80 308.74,258.20 323.78,258.50" fill="none" stroke="#c41a3c" stroke-width="1.2" stroke-linejoin="round"/>
<polyline points="233.54,204.00 248.58,204.00 263.62,202.70 278.66,206.30 293.70,244.60 308.74,258.20 323.78,258.50" fill="none" stroke="#2a5d8c" stroke-width="1.2" stroke-linejoin="round"/>
<rect x="231.84" y="215.50" width="3.4" height="3.4" fill="#ad1232"/>
<rect x="246.88" y="214.30" width="3.4" height="3.4" fill="#ad1232"/>
<rect x="261.92" y="220.50" width="3.4" height="3.4" fill="#ad1232"/>
<rect x="276.96" y="220.00" width="3.4" height="3.4" fill="#ad1232"/>
<rect x="292.00" y="244.10" width="3.4" height="3.4" fill="#2f2f50"/>
<rect x="307.04" y="256.50" width="3.4" height="3.4" fill="#2f2f50"/>
<rect x="322.08" y="256.80" width="3.4" height="3.4" fill="#2f2f50"/>
<circle cx="233.54" cy="204.00" r="1.85" fill="#1a3552"/>
<circle cx="248.58" cy="204.00" r="1.85" fill="#1a3552"/>
<circle cx="263.62" cy="202.70" r="1.85" fill="#1a3552"/>
<circle cx="278.66" cy="206.30" r="1.85" fill="#1a3552"/>
<circle cx="293.70" cy="244.60" r="1.85" fill="#1a3552"/>
<circle cx="308.74" cy="258.20" r="1.85" fill="#1a3552"/>
<circle cx="323.78" cy="258.50" r="1.85" fill="#1a3552"/>
<line x1="229.94" y1="198.20" x2="237.14" y2="198.20" stroke="#444" stroke-width="0.7"/>
<text transform="translate(233.54,198.59)" font-size="7.4" text-anchor="middle" fill="#111" stroke="#111" stroke-width="0.180">*</text>
<line x1="244.98" y1="198.00" x2="252.18" y2="198.00" stroke="#444" stroke-width="0.7"/>
<text transform="translate(248.58,198.39)" font-size="7.4" text-anchor="middle" fill="#111" stroke="#111" stroke-width="0.180">*</text>
<line x1="260.02" y1="197.30" x2="267.22" y2="197.30" stroke="#444" stroke-width="0.7"/>
<text transform="translate(263.62,197.69)" font-size="7.4" text-anchor="middle" fill="#111" stroke="#111" stroke-width="0.180">*</text>
<line x1="275.06" y1="201.50" x2="282.26" y2="201.50" stroke="#444" stroke-width="0.7"/>
<text transform="translate(278.66,201.89)" font-size="7.4" text-anchor="middle" fill="#111" stroke="#111" stroke-width="0.180">*</text>
<text transform="translate(280.30,291.20) scale(0.7386,1)" font-size="8.5" text-anchor="middle" font-weight="bold" fill="#1a1a1a" stroke="#1a1a1a" stroke-width="0.250">AraC (μM)</text>
<text transform="translate(194.90,226.20) rotate(-90) scale(0.7035,1)" font-size="8.1" text-anchor="middle" font-weight="bold" fill="#222" stroke="#222" stroke-width="0.180">% Cell viability</text>
<line x1="218.70" y1="300.40" x2="226.70" y2="300.40" stroke="#2a5d8c" stroke-width="1.0"/>
<circle cx="222.70" cy="300.40" r="1.6" fill="#1a3552"/>
<line x1="218.70" y1="310.50" x2="226.70" y2="310.50" stroke="#c41a3c" stroke-width="1.0"/>
<rect x="221.20" y="309.00" width="3" height="3" fill="#ad1232"/>
<text transform="translate(229.70,302.70)" font-size="6.4" text-anchor="start" fill="#222222">AraC</text>
<text transform="translate(229.70,312.80)" font-size="6.4" text-anchor="start" fill="#222222">AraC + Enitociclib</text>
<text transform="translate(84.60,356.60)" font-size="7.4" text-anchor="middle" fill="#222" stroke="#222" stroke-width="0.180">Prednisolone</text>
<line x1="36.60" y1="362.35" x2="36.60" y2="457.45" stroke="#1a1a1a" stroke-width="1.2"/>
<line x1="33.30" y1="456.85" x2="36.60" y2="456.85" stroke="#1a1a1a" stroke-width="0.9"/>
<text transform="translate(30.40,459.15)" font-size="6.4" text-anchor="end" fill="#222222" stroke="#222222" stroke-width="0.180">0</text>
<line x1="33.30" y1="410.70" x2="36.60" y2="410.70" stroke="#1a1a1a" stroke-width="0.9"/>
<text transform="translate(30.40,413.00)" font-size="6.4" text-anchor="end" fill="#222222" stroke="#222222" stroke-width="0.180">1</text>
<line x1="33.30" y1="364.55" x2="36.60" y2="364.55" stroke="#1a1a1a" stroke-width="0.9"/>
<text transform="translate(30.40,366.85)" font-size="6.4" text-anchor="end" fill="#222222" stroke="#222222" stroke-width="0.180">2</text>
<line x1="36.00" y1="456.85" x2="132.30" y2="456.85" stroke="#1a1a1a" stroke-width="1.3"/>
<line x1="36.60" y1="456.85" x2="36.60" y2="460.35" stroke="#1a1a1a" stroke-width="0.8"/>
<line x1="41.23" y1="456.85" x2="41.23" y2="458.65" stroke="#1a1a1a" stroke-width="0.8"/>
<line x1="45.85" y1="456.85" x2="45.85" y2="458.65" stroke="#1a1a1a" stroke-width="0.8"/>
<line x1="50.48" y1="456.85" x2="50.48" y2="458.65" stroke="#1a1a1a" stroke-width="0.8"/>
<line x1="55.10" y1="456.85" x2="55.10" y2="458.65" stroke="#1a1a1a" stroke-width="0.8"/>
<line x1="59.73" y1="456.85" x2="59.73" y2="458.65" stroke="#1a1a1a" stroke-width="0.8"/>
<line x1="64.35" y1="456.85" x2="64.35" y2="458.65" stroke="#1a1a1a" stroke-width="0.8"/>
<line x1="68.97" y1="456.85" x2="68.97" y2="458.65" stroke="#1a1a1a" stroke-width="0.8"/>
<line x1="73.60" y1="456.85" x2="73.60" y2="458.65" stroke="#1a1a1a" stroke-width="0.8"/>
<line x1="78.22" y1="456.85" x2="78.22" y2="458.65" stroke="#1a1a1a" stroke-width="0.8"/>
<line x1="82.85" y1="456.85" x2="82.85" y2="460.35" stroke="#1a1a1a" stroke-width="0.8"/>
<line x1="87.48" y1="456.85" x2="87.48" y2="458.65" stroke="#1a1a1a" stroke-width="0.8"/>
<line x1="92.10" y1="456.85" x2="92.10" y2="458.65" stroke="#1a1a1a" stroke-width="0.8"/>
<line x1="96.72" y1="456.85" x2="96.72" y2="458.65" stroke="#1a1a1a" stroke-width="0.8"/>
<line x1="101.35" y1="456.85" x2="101.35" y2="458.65" stroke="#1a1a1a" stroke-width="0.8"/>
<line x1="105.97" y1="456.85" x2="105.97" y2="458.65" stroke="#1a1a1a" stroke-width="0.8"/>
<line x1="110.60" y1="456.85" x2="110.60" y2="458.65" stroke="#1a1a1a" stroke-width="0.8"/>
<line x1="115.23" y1="456.85" x2="115.23" y2="458.65" stroke="#1a1a1a" stroke-width="0.8"/>
<line x1="119.85" y1="456.85" x2="119.85" y2="458.65" stroke="#1a1a1a" stroke-width="0.8"/>
<line x1="124.47" y1="456.85" x2="124.47" y2="458.65" stroke="#1a1a1a" stroke-width="0.8"/>
<line x1="129.10" y1="456.85" x2="129.10" y2="460.35" stroke="#1a1a1a" stroke-width="0.8"/>
<text transform="translate(36.60,468.45)" font-size="6.5" text-anchor="middle" fill="#222222" stroke="#222222" stroke-width="0.180">0.0</text>
<text transform="translate(82.85,468.45)" font-size="6.5" text-anchor="middle" fill="#222222" stroke="#222222" stroke-width="0.180">0.5</text>
<text transform="translate(129.10,468.45)" font-size="6.5" text-anchor="middle" fill="#222222" stroke="#222222" stroke-width="0.180">1.0</text>
<line x1="39.20" y1="410.70" x2="129.10" y2="410.70" stroke="#333" stroke-width="1.1" stroke-dasharray="1.05,1.3"/>
<circle cx="68.05" cy="406.09" r="1.55" fill="#1a3d66"/>
<circle cx="84.70" cy="433.78" r="1.55" fill="#1a3d66"/>
<circle cx="97.65" cy="438.39" r="1.55" fill="#1a3d66"/>
<circle cx="96.72" cy="443.00" r="1.55" fill="#1a3d66"/>
<circle cx="105.97" cy="424.55" r="1.55" fill="#1a3d66"/>
<text transform="translate(84.05,480.75) scale(0.6147,1)" font-size="9.2" text-anchor="middle" font-weight="bold" fill="#222" stroke="#222" stroke-width="0.180">Fa</text>
<text transform="translate(83.55,491.85)" font-size="6.6" text-anchor="middle" fill="#222222" stroke="#222222" stroke-width="0.180">CI = 0.5</text>
<text transform="translate(21.00,409.70) rotate(-90) scale(0.7334,1)" font-size="7.6" text-anchor="middle" font-weight="bold" fill="#222" stroke="#222" stroke-width="0.180">Combination index (CI)</text>
<text transform="translate(219.80,357.00)" font-size="7.4" text-anchor="middle" fill="#222" stroke="#222" stroke-width="0.180">Doxorubicin</text>
<line x1="171.50" y1="362.35" x2="171.50" y2="457.45" stroke="#1a1a1a" stroke-width="1.2"/>
<line x1="168.20" y1="456.85" x2="171.50" y2="456.85" stroke="#1a1a1a" stroke-width="0.9"/>
<text transform="translate(165.30,459.15)" font-size="6.4" text-anchor="end" fill="#222222" stroke="#222222" stroke-width="0.180">0</text>
<line x1="168.20" y1="410.70" x2="171.50" y2="410.70" stroke="#1a1a1a" stroke-width="0.9"/>
<text transform="translate(165.30,413.00)" font-size="6.4" text-anchor="end" fill="#222222" stroke="#222222" stroke-width="0.180">1</text>
<line x1="168.20" y1="364.55" x2="171.50" y2="364.55" stroke="#1a1a1a" stroke-width="0.9"/>
<text transform="translate(165.30,366.85)" font-size="6.4" text-anchor="end" fill="#222222" stroke="#222222" stroke-width="0.180">2</text>
<line x1="170.90" y1="456.85" x2="267.20" y2="456.85" stroke="#1a1a1a" stroke-width="1.3"/>
<line x1="171.50" y1="456.85" x2="171.50" y2="460.35" stroke="#1a1a1a" stroke-width="0.8"/>
<line x1="176.12" y1="456.85" x2="176.12" y2="458.65" stroke="#1a1a1a" stroke-width="0.8"/>
<line x1="180.75" y1="456.85" x2="180.75" y2="458.65" stroke="#1a1a1a" stroke-width="0.8"/>
<line x1="185.38" y1="456.85" x2="185.38" y2="458.65" stroke="#1a1a1a" stroke-width="0.8"/>
<line x1="190.00" y1="456.85" x2="190.00" y2="458.65" stroke="#1a1a1a" stroke-width="0.8"/>
<line x1="194.62" y1="456.85" x2="194.62" y2="458.65" stroke="#1a1a1a" stroke-width="0.8"/>
<line x1="199.25" y1="456.85" x2="199.25" y2="458.65" stroke="#1a1a1a" stroke-width="0.8"/>
<line x1="203.88" y1="456.85" x2="203.88" y2="458.65" stroke="#1a1a1a" stroke-width="0.8"/>
<line x1="208.50" y1="456.85" x2="208.50" y2="458.65" stroke="#1a1a1a" stroke-width="0.8"/>
<line x1="213.12" y1="456.85" x2="213.12" y2="458.65" stroke="#1a1a1a" stroke-width="0.8"/>
<line x1="217.75" y1="456.85" x2="217.75" y2="460.35" stroke="#1a1a1a" stroke-width="0.8"/>
<line x1="222.38" y1="456.85" x2="222.38" y2="458.65" stroke="#1a1a1a" stroke-width="0.8"/>
<line x1="227.00" y1="456.85" x2="227.00" y2="458.65" stroke="#1a1a1a" stroke-width="0.8"/>
<line x1="231.62" y1="456.85" x2="231.62" y2="458.65" stroke="#1a1a1a" stroke-width="0.8"/>
<line x1="236.25" y1="456.85" x2="236.25" y2="458.65" stroke="#1a1a1a" stroke-width="0.8"/>
<line x1="240.88" y1="456.85" x2="240.88" y2="458.65" stroke="#1a1a1a" stroke-width="0.8"/>
<line x1="245.50" y1="456.85" x2="245.50" y2="458.65" stroke="#1a1a1a" stroke-width="0.8"/>
<line x1="250.12" y1="456.85" x2="250.12" y2="458.65" stroke="#1a1a1a" stroke-width="0.8"/>
<line x1="254.75" y1="456.85" x2="254.75" y2="458.65" stroke="#1a1a1a" stroke-width="0.8"/>
<line x1="259.38" y1="456.85" x2="259.38" y2="458.65" stroke="#1a1a1a" stroke-width="0.8"/>
<line x1="264.00" y1="456.85" x2="264.00" y2="460.35" stroke="#1a1a1a" stroke-width="0.8"/>
<text transform="translate(171.50,468.45)" font-size="6.5" text-anchor="middle" fill="#222222" stroke="#222222" stroke-width="0.180">0.0</text>
<text transform="translate(217.75,468.45)" font-size="6.5" text-anchor="middle" fill="#222222" stroke="#222222" stroke-width="0.180">0.5</text>
<text transform="translate(264.00,468.45)" font-size="6.5" text-anchor="middle" fill="#222222" stroke="#222222" stroke-width="0.180">1.0</text>
<line x1="174.10" y1="410.70" x2="264.00" y2="410.70" stroke="#333" stroke-width="1.1" stroke-dasharray="1.05,1.3"/>
<circle cx="195.55" cy="373.78" r="1.55" fill="#1a3d66"/>
<circle cx="200.18" cy="392.24" r="1.55" fill="#1a3d66"/>
<circle cx="202.95" cy="396.86" r="1.55" fill="#1a3d66"/>
<circle cx="227.93" cy="438.39" r="1.55" fill="#1a3d66"/>
<circle cx="250.12" cy="419.93" r="1.55" fill="#1a3d66"/>
<circle cx="247.35" cy="447.62" r="1.55" fill="#1a3d66"/>
<text transform="translate(218.95,480.75) scale(0.6147,1)" font-size="9.2" text-anchor="middle" font-weight="bold" fill="#222" stroke="#222" stroke-width="0.180">Fa</text>
<text transform="translate(218.45,491.85)" font-size="6.6" text-anchor="middle" fill="#222222" stroke="#222222" stroke-width="0.180">CI = 0.9</text>
<text transform="translate(155.50,409.70) rotate(-90) scale(0.7334,1)" font-size="7.6" text-anchor="middle" font-weight="bold" fill="#222" stroke="#222" stroke-width="0.180">Combination index (CI)</text>
<text transform="translate(354.40,357.00)" font-size="7.4" text-anchor="middle" fill="#222" stroke="#222" stroke-width="0.180">AraC</text>
<line x1="306.30" y1="362.35" x2="306.30" y2="457.45" stroke="#1a1a1a" stroke-width="1.2"/>
<line x1="303.00" y1="456.85" x2="306.30" y2="456.85" stroke="#1a1a1a" stroke-width="0.9"/>
<text transform="translate(300.10,459.15)" font-size="6.4" text-anchor="end" fill="#222222" stroke="#222222" stroke-width="0.180">0</text>
<line x1="303.00" y1="410.70" x2="306.30" y2="410.70" stroke="#1a1a1a" stroke-width="0.9"/>
<text transform="translate(300.10,413.00)" font-size="6.4" text-anchor="end" fill="#222222" stroke="#222222" stroke-width="0.180">1</text>
<line x1="303.00" y1="364.55" x2="306.30" y2="364.55" stroke="#1a1a1a" stroke-width="0.9"/>
<text transform="translate(300.10,366.85)" font-size="6.4" text-anchor="end" fill="#222222" stroke="#222222" stroke-width="0.180">2</text>
<line x1="305.70" y1="456.85" x2="402.00" y2="456.85" stroke="#1a1a1a" stroke-width="1.3"/>
<line x1="306.30" y1="456.85" x2="306.30" y2="460.35" stroke="#1a1a1a" stroke-width="0.8"/>
<line x1="310.93" y1="456.85" x2="310.93" y2="458.65" stroke="#1a1a1a" stroke-width="0.8"/>
<line x1="315.55" y1="456.85" x2="315.55" y2="458.65" stroke="#1a1a1a" stroke-width="0.8"/>
<line x1="320.18" y1="456.85" x2="320.18" y2="458.65" stroke="#1a1a1a" stroke-width="0.8"/>
<line x1="324.80" y1="456.85" x2="324.80" y2="458.65" stroke="#1a1a1a" stroke-width="0.8"/>
<line x1="329.43" y1="456.85" x2="329.43" y2="458.65" stroke="#1a1a1a" stroke-width="0.8"/>
<line x1="334.05" y1="456.85" x2="334.05" y2="458.65" stroke="#1a1a1a" stroke-width="0.8"/>
<line x1="338.68" y1="456.85" x2="338.68" y2="458.65" stroke="#1a1a1a" stroke-width="0.8"/>
<line x1="343.30" y1="456.85" x2="343.30" y2="458.65" stroke="#1a1a1a" stroke-width="0.8"/>
<line x1="347.93" y1="456.85" x2="347.93" y2="458.65" stroke="#1a1a1a" stroke-width="0.8"/>
<line x1="352.55" y1="456.85" x2="352.55" y2="460.35" stroke="#1a1a1a" stroke-width="0.8"/>
<line x1="357.18" y1="456.85" x2="357.18" y2="458.65" stroke="#1a1a1a" stroke-width="0.8"/>
<line x1="361.80" y1="456.85" x2="361.80" y2="458.65" stroke="#1a1a1a" stroke-width="0.8"/>
<line x1="366.43" y1="456.85" x2="366.43" y2="458.65" stroke="#1a1a1a" stroke-width="0.8"/>
<line x1="371.05" y1="456.85" x2="371.05" y2="458.65" stroke="#1a1a1a" stroke-width="0.8"/>
<line x1="375.68" y1="456.85" x2="375.68" y2="458.65" stroke="#1a1a1a" stroke-width="0.8"/>
<line x1="380.30" y1="456.85" x2="380.30" y2="458.65" stroke="#1a1a1a" stroke-width="0.8"/>
<line x1="384.93" y1="456.85" x2="384.93" y2="458.65" stroke="#1a1a1a" stroke-width="0.8"/>
<line x1="389.55" y1="456.85" x2="389.55" y2="458.65" stroke="#1a1a1a" stroke-width="0.8"/>
<line x1="394.18" y1="456.85" x2="394.18" y2="458.65" stroke="#1a1a1a" stroke-width="0.8"/>
<line x1="398.80" y1="456.85" x2="398.80" y2="460.35" stroke="#1a1a1a" stroke-width="0.8"/>
<text transform="translate(306.30,468.45)" font-size="6.5" text-anchor="middle" fill="#222222" stroke="#222222" stroke-width="0.180">0.0</text>
<text transform="translate(352.55,468.45)" font-size="6.5" text-anchor="middle" fill="#222222" stroke="#222222" stroke-width="0.180">0.5</text>
<text transform="translate(398.80,468.45)" font-size="6.5" text-anchor="middle" fill="#222222" stroke="#222222" stroke-width="0.180">1.0</text>
<line x1="308.90" y1="410.70" x2="398.80" y2="410.70" stroke="#333" stroke-width="1.1" stroke-dasharray="1.05,1.3"/>
<circle cx="334.98" cy="369.17" r="1.55" fill="#1a3d66"/>
<circle cx="335.90" cy="392.24" r="1.55" fill="#1a3d66"/>
<circle cx="386.31" cy="406.09" r="1.55" fill="#1a3d66"/>
<circle cx="369.20" cy="438.39" r="1.55" fill="#1a3d66"/>
<circle cx="384.93" cy="447.62" r="1.55" fill="#1a3d66"/>
<text transform="translate(353.75,480.75) scale(0.6147,1)" font-size="9.2" text-anchor="middle" font-weight="bold" fill="#222" stroke="#222" stroke-width="0.180">Fa</text>
<text transform="translate(353.25,491.85)" font-size="6.6" text-anchor="middle" fill="#222222" stroke="#222222" stroke-width="0.180">CI = 1</text>
<text transform="translate(290.50,409.70) rotate(-90) scale(0.7334,1)" font-size="7.6" text-anchor="middle" font-weight="bold" fill="#222" stroke="#222" stroke-width="0.180">Combination index (CI)</text>
<text transform="translate(84.70,515.90)" font-size="7.4" text-anchor="middle" fill="#222" stroke="#222" stroke-width="0.180">Vincristine</text>
<line x1="36.60" y1="521.80" x2="36.60" y2="616.90" stroke="#1a1a1a" stroke-width="1.2"/>
<line x1="33.30" y1="616.30" x2="36.60" y2="616.30" stroke="#1a1a1a" stroke-width="0.9"/>
<text transform="translate(30.40,618.60)" font-size="6.4" text-anchor="end" fill="#222222" stroke="#222222" stroke-width="0.180">0</text>
<line x1="33.30" y1="570.15" x2="36.60" y2="570.15" stroke="#1a1a1a" stroke-width="0.9"/>
<text transform="translate(30.40,572.45)" font-size="6.4" text-anchor="end" fill="#222222" stroke="#222222" stroke-width="0.180">1</text>
<line x1="33.30" y1="524.00" x2="36.60" y2="524.00" stroke="#1a1a1a" stroke-width="0.9"/>
<text transform="translate(30.40,526.30)" font-size="6.4" text-anchor="end" fill="#222222" stroke="#222222" stroke-width="0.180">2</text>
<line x1="36.00" y1="616.30" x2="132.30" y2="616.30" stroke="#1a1a1a" stroke-width="1.3"/>
<line x1="36.60" y1="616.30" x2="36.60" y2="619.80" stroke="#1a1a1a" stroke-width="0.8"/>
<line x1="41.23" y1="616.30" x2="41.23" y2="618.10" stroke="#1a1a1a" stroke-width="0.8"/>
<line x1="45.85" y1="616.30" x2="45.85" y2="618.10" stroke="#1a1a1a" stroke-width="0.8"/>
<line x1="50.48" y1="616.30" x2="50.48" y2="618.10" stroke="#1a1a1a" stroke-width="0.8"/>
<line x1="55.10" y1="616.30" x2="55.10" y2="618.10" stroke="#1a1a1a" stroke-width="0.8"/>
<line x1="59.73" y1="616.30" x2="59.73" y2="618.10" stroke="#1a1a1a" stroke-width="0.8"/>
<line x1="64.35" y1="616.30" x2="64.35" y2="618.10" stroke="#1a1a1a" stroke-width="0.8"/>
<line x1="68.97" y1="616.30" x2="68.97" y2="618.10" stroke="#1a1a1a" stroke-width="0.8"/>
<line x1="73.60" y1="616.30" x2="73.60" y2="618.10" stroke="#1a1a1a" stroke-width="0.8"/>
<line x1="78.22" y1="616.30" x2="78.22" y2="618.10" stroke="#1a1a1a" stroke-width="0.8"/>
<line x1="82.85" y1="616.30" x2="82.85" y2="619.80" stroke="#1a1a1a" stroke-width="0.8"/>
<line x1="87.48" y1="616.30" x2="87.48" y2="618.10" stroke="#1a1a1a" stroke-width="0.8"/>
<line x1="92.10" y1="616.30" x2="92.10" y2="618.10" stroke="#1a1a1a" stroke-width="0.8"/>
<line x1="96.72" y1="616.30" x2="96.72" y2="618.10" stroke="#1a1a1a" stroke-width="0.8"/>
<line x1="101.35" y1="616.30" x2="101.35" y2="618.10" stroke="#1a1a1a" stroke-width="0.8"/>
<line x1="105.97" y1="616.30" x2="105.97" y2="618.10" stroke="#1a1a1a" stroke-width="0.8"/>
<line x1="110.60" y1="616.30" x2="110.60" y2="618.10" stroke="#1a1a1a" stroke-width="0.8"/>
<line x1="115.23" y1="616.30" x2="115.23" y2="618.10" stroke="#1a1a1a" stroke-width="0.8"/>
<line x1="119.85" y1="616.30" x2="119.85" y2="618.10" stroke="#1a1a1a" stroke-width="0.8"/>
<line x1="124.47" y1="616.30" x2="124.47" y2="618.10" stroke="#1a1a1a" stroke-width="0.8"/>
<line x1="129.10" y1="616.30" x2="129.10" y2="619.80" stroke="#1a1a1a" stroke-width="0.8"/>
<text transform="translate(36.60,627.90)" font-size="6.5" text-anchor="middle" fill="#222222" stroke="#222222" stroke-width="0.180">0.0</text>
<text transform="translate(82.85,627.90)" font-size="6.5" text-anchor="middle" fill="#222222" stroke="#222222" stroke-width="0.180">0.5</text>
<text transform="translate(129.10,627.90)" font-size="6.5" text-anchor="middle" fill="#222222" stroke="#222222" stroke-width="0.180">1.0</text>
<line x1="39.20" y1="570.15" x2="129.10" y2="570.15" stroke="#333" stroke-width="1.1" stroke-dasharray="1.05,1.3"/>
<circle cx="61.58" cy="542.46" r="1.55" fill="#1a3d66"/>
<circle cx="62.96" cy="542.46" r="1.55" fill="#1a3d66"/>
<circle cx="70.83" cy="556.30" r="1.55" fill="#1a3d66"/>
<circle cx="116.15" cy="565.53" r="1.55" fill="#1a3d66"/>
<circle cx="111.99" cy="611.68" r="1.55" fill="#1a3d66"/>
<circle cx="117.07" cy="611.68" r="1.55" fill="#1a3d66"/>
<text transform="translate(84.05,640.20) scale(0.6147,1)" font-size="9.2" text-anchor="middle" font-weight="bold" fill="#222" stroke="#222" stroke-width="0.180">Fa</text>
<text transform="translate(83.55,651.30)" font-size="6.6" text-anchor="middle" fill="#222222" stroke="#222222" stroke-width="0.180">CI = 1</text>
<text transform="translate(21.00,569.15) rotate(-90) scale(0.7334,1)" font-size="7.6" text-anchor="middle" font-weight="bold" fill="#222" stroke="#222" stroke-width="0.180">Combination index (CI)</text>
<text transform="translate(219.40,515.00)" font-size="7.4" text-anchor="middle" fill="#222" stroke="#222" stroke-width="0.180">Methotrexate</text>
<line x1="171.50" y1="522.20" x2="171.50" y2="617.30" stroke="#1a1a1a" stroke-width="1.2"/>
<line x1="168.20" y1="616.70" x2="171.50" y2="616.70" stroke="#1a1a1a" stroke-width="0.9"/>
<text transform="translate(165.30,619.00)" font-size="6.4" text-anchor="end" fill="#222222" stroke="#222222" stroke-width="0.180">0</text>
<line x1="168.20" y1="570.55" x2="171.50" y2="570.55" stroke="#1a1a1a" stroke-width="0.9"/>
<text transform="translate(165.30,572.85)" font-size="6.4" text-anchor="end" fill="#222222" stroke="#222222" stroke-width="0.180">1</text>
<line x1="168.20" y1="524.40" x2="171.50" y2="524.40" stroke="#1a1a1a" stroke-width="0.9"/>
<text transform="translate(165.30,526.70)" font-size="6.4" text-anchor="end" fill="#222222" stroke="#222222" stroke-width="0.180">2</text>
<line x1="170.90" y1="616.70" x2="267.20" y2="616.70" stroke="#1a1a1a" stroke-width="1.3"/>
<line x1="171.50" y1="616.70" x2="171.50" y2="620.20" stroke="#1a1a1a" stroke-width="0.8"/>
<line x1="176.12" y1="616.70" x2="176.12" y2="618.50" stroke="#1a1a1a" stroke-width="0.8"/>
<line x1="180.75" y1="616.70" x2="180.75" y2="618.50" stroke="#1a1a1a" stroke-width="0.8"/>
<line x1="185.38" y1="616.70" x2="185.38" y2="618.50" stroke="#1a1a1a" stroke-width="0.8"/>
<line x1="190.00" y1="616.70" x2="190.00" y2="618.50" stroke="#1a1a1a" stroke-width="0.8"/>
<line x1="194.62" y1="616.70" x2="194.62" y2="618.50" stroke="#1a1a1a" stroke-width="0.8"/>
<line x1="199.25" y1="616.70" x2="199.25" y2="618.50" stroke="#1a1a1a" stroke-width="0.8"/>
<line x1="203.88" y1="616.70" x2="203.88" y2="618.50" stroke="#1a1a1a" stroke-width="0.8"/>
<line x1="208.50" y1="616.70" x2="208.50" y2="618.50" stroke="#1a1a1a" stroke-width="0.8"/>
<line x1="213.12" y1="616.70" x2="213.12" y2="618.50" stroke="#1a1a1a" stroke-width="0.8"/>
<line x1="217.75" y1="616.70" x2="217.75" y2="620.20" stroke="#1a1a1a" stroke-width="0.8"/>
<line x1="222.38" y1="616.70" x2="222.38" y2="618.50" stroke="#1a1a1a" stroke-width="0.8"/>
<line x1="227.00" y1="616.70" x2="227.00" y2="618.50" stroke="#1a1a1a" stroke-width="0.8"/>
<line x1="231.62" y1="616.70" x2="231.62" y2="618.50" stroke="#1a1a1a" stroke-width="0.8"/>
<line x1="236.25" y1="616.70" x2="236.25" y2="618.50" stroke="#1a1a1a" stroke-width="0.8"/>
<line x1="240.88" y1="616.70" x2="240.88" y2="618.50" stroke="#1a1a1a" stroke-width="0.8"/>
<line x1="245.50" y1="616.70" x2="245.50" y2="618.50" stroke="#1a1a1a" stroke-width="0.8"/>
<line x1="250.12" y1="616.70" x2="250.12" y2="618.50" stroke="#1a1a1a" stroke-width="0.8"/>
<line x1="254.75" y1="616.70" x2="254.75" y2="618.50" stroke="#1a1a1a" stroke-width="0.8"/>
<line x1="259.38" y1="616.70" x2="259.38" y2="618.50" stroke="#1a1a1a" stroke-width="0.8"/>
<line x1="264.00" y1="616.70" x2="264.00" y2="620.20" stroke="#1a1a1a" stroke-width="0.8"/>
<text transform="translate(171.50,628.30)" font-size="6.5" text-anchor="middle" fill="#222222" stroke="#222222" stroke-width="0.180">0.0</text>
<text transform="translate(217.75,628.30)" font-size="6.5" text-anchor="middle" fill="#222222" stroke="#222222" stroke-width="0.180">0.5</text>
<text transform="translate(264.00,628.30)" font-size="6.5" text-anchor="middle" fill="#222222" stroke="#222222" stroke-width="0.180">1.0</text>
<line x1="174.10" y1="570.55" x2="264.00" y2="570.55" stroke="#333" stroke-width="1.1" stroke-dasharray="1.05,1.3"/>
<circle cx="193.70" cy="524.40" r="1.55" fill="#1a3d66"/>
<circle cx="197.40" cy="529.02" r="1.55" fill="#1a3d66"/>
<circle cx="197.40" cy="538.25" r="1.55" fill="#1a3d66"/>
<circle cx="202.03" cy="556.71" r="1.55" fill="#1a3d66"/>
<circle cx="250.59" cy="589.01" r="1.55" fill="#1a3d66"/>
<circle cx="241.80" cy="607.47" r="1.55" fill="#1a3d66"/>
<circle cx="250.59" cy="612.09" r="1.55" fill="#1a3d66"/>
<text transform="translate(218.95,640.60) scale(0.6147,1)" font-size="9.2" text-anchor="middle" font-weight="bold" fill="#222" stroke="#222" stroke-width="0.180">Fa</text>
<text transform="translate(218.45,651.70)" font-size="6.6" text-anchor="middle" fill="#222222" stroke="#222222" stroke-width="0.180">CI = 1.1</text>
<text transform="translate(155.20,569.55) rotate(-90) scale(0.7334,1)" font-size="7.6" text-anchor="middle" font-weight="bold" fill="#222" stroke="#222" stroke-width="0.180">Combination index (CI)</text>
</svg></div></body></html>
